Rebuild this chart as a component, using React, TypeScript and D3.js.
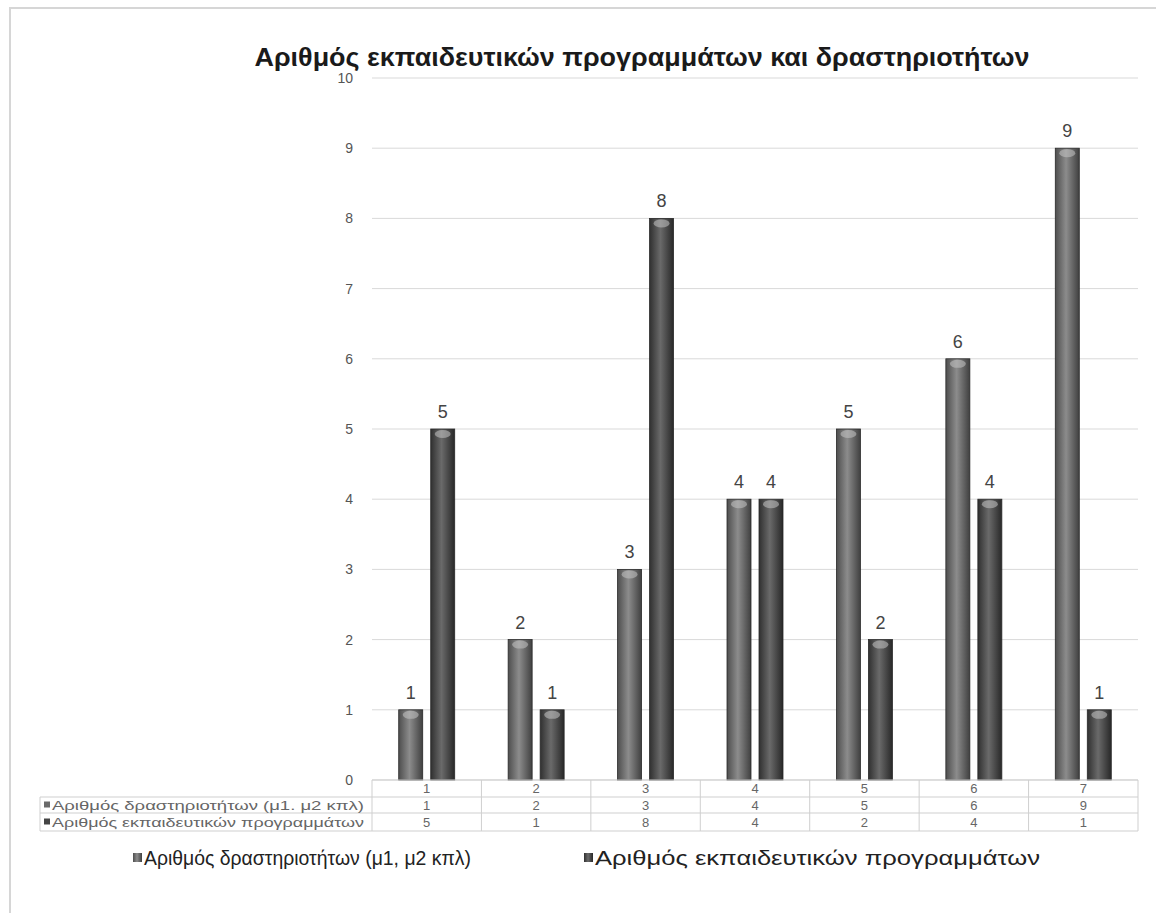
import React, { useEffect, useRef } from "react";
import * as d3 from "d3";

const categories = ["1", "2", "3", "4", "5", "6", "7"];
const seriesNames = [
  "Αριθμός  δραστηριοτήτων (μ1, μ2 κπλ)",
  "Αριθμός εκπαιδευτικών προγραμμάτων",
];
const tableLabels = [
  "Αριθμός  δραστηριοτήτων (μ1. μ2 κπλ)",
  "Αριθμός εκπαιδευτικών προγραμμάτων",
];
const activities = [1, 2, 3, 4, 5, 6, 9];
const programs = [5, 1, 8, 4, 2, 4, 1];
const yTicks = [0, 1, 2, 3, 4, 5, 6, 7, 8, 9, 10];
const title = "Αριθμός εκπαιδευτικών προγραμμάτων και δραστηριοτήτων";

const App: React.FC = () => {
  const ref = useRef<SVGSVGElement>(null);

  useEffect(() => {
    const svg = d3.select(ref.current);
    svg.selectAll("*").remove();

    const W = 1156,
      H = 913;
    const left = 372,
      right = 1138,
      top = 78,
      bottom = 780;
    const font = "Liberation Sans, Arial, sans-serif";

    svg.append("rect").attr("width", W).attr("height", H).attr("fill", "#fff");

    // outer frame
    svg
      .append("path")
      .attr("d", `M10,${H} L10,8 L${W},8`)
      .attr("fill", "none")
      .attr("stroke", "#d6d6d6")
      .attr("stroke-width", 2);

    const defs = svg.append("defs");
    const grads = [
      ["g0", "#4e4e4e", "#8c8c8c", "#404040"],
      ["g1", "#303030", "#6a6a6a", "#282828"],
    ];
    grads.forEach(([id, a, b, c]) => {
      const g = defs
        .append("linearGradient")
        .attr("id", id)
        .attr("x1", "0")
        .attr("x2", "1")
        .attr("y1", "0")
        .attr("y2", "0");
      g.append("stop").attr("offset", "0%").attr("stop-color", a);
      g.append("stop").attr("offset", "45%").attr("stop-color", b);
      g.append("stop").attr("offset", "100%").attr("stop-color", c);
    });

    const y = d3.scaleLinear().domain([0, 10]).range([bottom, top]);
    const x = d3.scaleBand().domain(categories).range([left, right]);
    const bw0 = x.bandwidth();
    const inner = d3
      .scaleBand()
      .domain(["0", "1"])
      .range([bw0 / 2 - 28, bw0 / 2 + 28])
      .paddingInner(0.25);

    // title
    svg
      .append("text")
      .attr("x", 642)
      .attr("y", 66)
      .attr("text-anchor", "middle")
      .attr("font-family", font)
      .attr("font-weight", "bold")
      .attr("font-size", 25)
      .attr("fill", "#1a1a1a")
      .attr("textLength", 775)
      .attr("lengthAdjust", "spacingAndGlyphs")
      .text(title);

    // gridlines
    svg
      .append("g")
      .selectAll("line")
      .data(yTicks)
      .enter()
      .append("line")
      .attr("x1", left)
      .attr("x2", right)
      .attr("y1", (d) => y(d))
      .attr("y2", (d) => y(d))
      .attr("stroke", "#d9d9d9")
      .attr("stroke-width", 1);

    svg
      .append("g")
      .selectAll("text")
      .data(yTicks)
      .enter()
      .append("text")
      .attr("x", 353)
      .attr("y", (d) => y(d) + 5)
      .attr("text-anchor", "end")
      .attr("font-family", font)
      .attr("font-size", 14)
      .attr("fill", "#555")
      .text((d) => d);

    // bars
    const series = [activities, programs];
    series.forEach((vals, si) => {
      const g = svg.append("g");
      vals.forEach((v, i) => {
        const bx = x(categories[i])! + inner(String(si))!;
        const bw = inner.bandwidth();
        const by = y(v);
        g.append("rect")
          .attr("x", bx)
          .attr("y", by)
          .attr("width", bw)
          .attr("height", bottom - by)
          .attr("fill", `url(#g${si})`)
          .attr("stroke", "#2a2a2a")
          .attr("stroke-width", 0.8);
        g.append("ellipse")
          .attr("cx", bx + bw / 2)
          .attr("cy", by + 5)
          .attr("rx", bw / 2 - 4)
          .attr("ry", 4)
          .attr("fill", "#c4c4c4")
          .attr("opacity", 0.55);
        g.append("text")
          .attr("x", bx + bw / 2)
          .attr("y", by - 11)
          .attr("text-anchor", "middle")
          .attr("font-family", font)
          .attr("font-size", 18)
          .attr("fill", "#444")
          .text(v);
      });
    });

    // data table
    const rows = [797, 813, 831];
    const tableLeft = 40;
    const tg = svg.append("g");
    tg.append("line")
      .attr("x1", left)
      .attr("x2", right)
      .attr("y1", bottom)
      .attr("y2", bottom)
      .attr("stroke", "#cfcfcf");
    rows.forEach((ry) => {
      tg.append("line")
        .attr("x1", tableLeft)
        .attr("x2", right)
        .attr("y1", ry)
        .attr("y2", ry)
        .attr("stroke", "#cfcfcf");
    });
    tg.append("line")
      .attr("x1", tableLeft)
      .attr("x2", tableLeft)
      .attr("y1", rows[0])
      .attr("y2", rows[2])
      .attr("stroke", "#cfcfcf");
    categories.concat(["end"]).forEach((c, i) => {
      const xx = i < categories.length ? x(c)! : right;
      tg.append("line")
        .attr("x1", xx)
        .attr("x2", xx)
        .attr("y1", bottom)
        .attr("y2", rows[2])
        .attr("stroke", "#cfcfcf");
    });
    const rowText = [categories, activities.map(String), programs.map(String)];
    const rowMid = [788.5, 805, 822];
    rowText.forEach((r, ri) => {
      r.forEach((t, i) => {
        tg.append("text")
          .attr("x", x(categories[i])! + x.bandwidth() / 2)
          .attr("y", rowMid[ri] + 4.5)
          .attr("text-anchor", "middle")
          .attr("font-family", font)
          .attr("font-size", 13)
          .attr("fill", "#666")
          .text(t);
      });
    });
    tableLabels.forEach((t, i) => {
      tg.append("rect")
        .attr("x", 44)
        .attr("y", rowMid[i + 1] - 3.5)
        .attr("width", 6)
        .attr("height", 6)
        .attr("fill", i === 0 ? "#6a6a6a" : "#444");
      tg.append("text")
        .attr("x", 52)
        .attr("y", rowMid[i + 1] + 4.5)
        .attr("font-family", font)
        .attr("font-size", 13)
        .attr("fill", "#666")
        .attr("textLength", 312)
        .attr("lengthAdjust", "spacingAndGlyphs")
        .text(t);
    });

    // legend
    const legendX = [133, 584];
    const legendLen = [327, 445];
    seriesNames.forEach((n, i) => {
      svg
        .append("rect")
        .attr("x", legendX[i])
        .attr("y", 853)
        .attr("width", 9)
        .attr("height", 9)
        .attr("fill", `url(#g${i})`);
      svg
        .append("text")
        .attr("x", legendX[i] + 11)
        .attr("y", 865)
        .attr("font-family", font)
        .attr("font-size", 20)
        .attr("fill", "#222")
        .attr("textLength", legendLen[i])
        .attr("lengthAdjust", "spacingAndGlyphs")
        .text(n);
    });
  }, []);

  return (
    <svg
      ref={ref}
      width={1156}
      height={913}
      style={{ position: "absolute", left: 0, top: 0 }}
    />
  );
};

export default App;
